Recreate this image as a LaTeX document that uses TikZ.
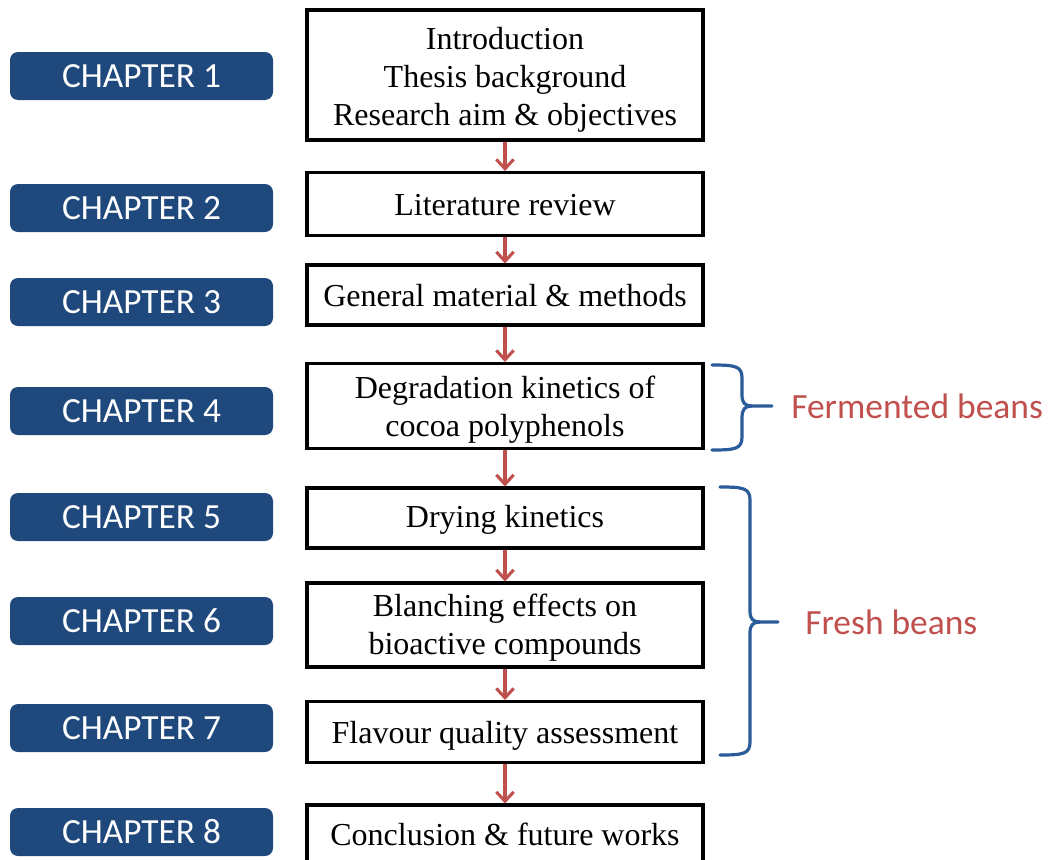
\documentclass[tikz,border=0pt]{standalone}
\usepackage{fontspec}
\setmainfont{Liberation Serif}
\newfontfamily\calib{Carlito}
\usetikzlibrary{arrows.meta}
\definecolor{chblue}{HTML}{1F497D}
\definecolor{brblue}{HTML}{2A5C9A}
\definecolor{redarr}{HTML}{C0504D}
\newcommand{\bxt}[2]{\raisebox{-#1\dimexpr0.75pt\relax}[0pt][0pt]{\begin{tabular}{@{}c@{}}#2\end{tabular}}}
\tikzset{
  stepbox/.style={draw=black, line width=2.3pt, fill=white, minimum width={0.75*396pt}, align=center, inner sep=0pt,
    font=\fontsize{24}{28.5}\selectfont},
  chap/.style={fill=chblue, rounded corners=6pt, minimum width={0.75*263pt}, minimum height={0.75*48pt}, inner sep=0pt,
    text=white, font=\calib\fontsize{26.5}{30}\selectfont},
  arr/.style={draw=redarr, line width=2.3pt, -{Straight Barb[length=7pt,width=13pt,line width=2.3pt]}},
  brace/.style={draw=brblue, line width=2.4pt, line cap=round},
  lab/.style={anchor=west, text=redarr, inner sep=0pt, font=\calib\fontsize{26.6}{30}\selectfont}
}
\begin{document}
\begin{tikzpicture}[x=0.75pt,y=-0.75pt]
\useasboundingbox (0,0) rectangle (1053,860);
\clip (0,0) rectangle (1053,860);
% main boxes
\node[stepbox, minimum height={0.75*130pt}] (b1) at (505,75) {\bxt{13}{Introduction\\Thesis background\\Research aim \& objectives}};
\node[stepbox, minimum height={0.75*63pt}] (b2) at (505,204) {\bxt{12}{Literature review}};
\node[stepbox, minimum height={0.75*60pt}] (b3) at (505,295) {\bxt{12}{General material \& methods}};
\node[stepbox, minimum height={0.75*85pt}] (b4) at (505,406) {\bxt{12}{Degradation kinetics of\\cocoa polyphenols}};
\node[stepbox, minimum height={0.75*60pt}] (b5) at (505,518) {\bxt{10}{Drying kinetics}};
\node[stepbox, minimum height={0.75*84pt}] (b6) at (505,625) {\bxt{11}{Blanching effects on\\bioactive compounds}};
\node[stepbox, minimum height={0.75*61pt}] (b7) at (505,732) {\bxt{12}{Flavour quality assessment}};
\node[stepbox, minimum height={0.75*62pt}] (b8) at (505,836) {\bxt{10}{Conclusion \& future works}};
% chapter labels
\node[chap] (c1) at (141.5,76) {CHAPTER 1};
\node[chap] (c2) at (141.5,208) {CHAPTER 2};
\node[chap] (c3) at (141.5,302) {CHAPTER 3};
\node[chap] (c4) at (141.5,411) {CHAPTER 4};
\node[chap] (c5) at (141.5,517) {CHAPTER 5};
\node[chap] (c6) at (141.5,621) {CHAPTER 6};
\node[chap] (c7) at (141.5,728) {CHAPTER 7};
\node[chap] (c8) at (141.5,832) {CHAPTER 8};
% arrows
\draw[arr] (b1.south) -- (b2.north);
\draw[arr] (b2.south) -- (b3.north);
\draw[arr] (b3.south) -- (b4.north);
\draw[arr] (b4.south) -- (b5.north);
\draw[arr] (b5.south) -- (b6.north);
\draw[arr] (b6.south) -- (b7.north);
\draw[arr] (b7.south) -- (b8.north);
% braces
\coordinate (ftip) at (772,406);
\draw[brace] (712,365) .. controls (735,365) and (742,366) .. (742,378) -- (742,395)
  .. controls (742,403) and (745,406) .. (752,406) -- (ftip);
\draw[brace] (712,450) .. controls (735,450) and (742,449) .. (742,437) -- (742,418)
  .. controls (742,409) and (745,406) .. (752,406);
\coordinate (rtip) at (778,622);
\draw[brace] (720,487) .. controls (743,487) and (750,488) .. (750,500) -- (750,611)
  .. controls (750,619) and (753,622) .. (760,622) -- (rtip);
\draw[brace] (720,755) .. controls (743,755) and (750,754) .. (750,742) -- (750,633)
  .. controls (750,625) and (753,622) .. (760,622);
\node[lab] (fer) at (791,406) {Fermented beans};
\node[lab] (fre) at (805,622) {Fresh beans};
\end{tikzpicture}
\end{document}
